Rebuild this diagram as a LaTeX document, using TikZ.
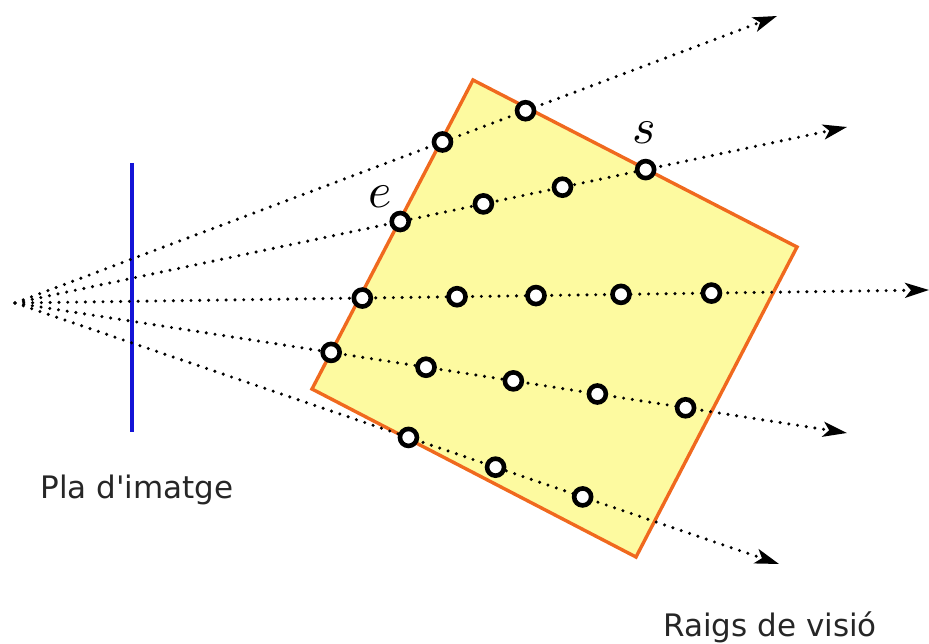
\documentclass[tikz,border=0pt]{standalone}
\usepackage{fontspec}
\setsansfont{DejaVu Sans}[Ligatures=TeXOff]
\usetikzlibrary{arrows.meta,calc}
\definecolor{sqfill}{RGB}{253,250,160}
\definecolor{sqdraw}{RGB}{240,105,30}
\definecolor{planeblue}{RGB}{20,20,215}
\tikzset{
  ray/.style={line width=3.4pt, dash pattern=on 0pt off 8.8pt, line cap=round,
    -{Stealth[length=24pt,width=15pt,inset=6pt]}},
  sample/.style={circle, draw=black, fill=white, line width=4.6pt, minimum size=17pt, inner sep=0pt},
  lbl/.style={font=\sffamily\fontsize{31}{31}\selectfont, text=black!85},
  mlbl/.style={scale=5, inner sep=0pt}
}
\begin{document}
\begin{tikzpicture}[x=1pt,y=-1pt]
\useasboundingbox (0,0) rectangle (929,644);
% object
\draw[line width=3.4pt, sqdraw, fill=sqfill, line join=miter]
  (473,80) -- (797,247) -- (636,557) -- (312,389) -- cycle;
% image plane
\draw[line width=4pt, planeblue] (132,163) -- (132,432);
% rays
\coordinate (O) at (15,303);
\coordinate (R1) at (777,16);
\coordinate (R2) at (847,127);
\coordinate (R3) at (929,290);
\coordinate (R4) at (847,433);
\coordinate (R5) at (779,564);
\foreach \r in {R1,R2,R3,R4,R5}{\draw[ray] (O) -- (\r);}
% samples
\node[sample] (a1) at ($(O)!0.561!(R1)$) {};
\node[sample] (a2) at ($(O)!0.670!(R1)$) {};
\node[sample] (b1) at ($(O)!0.463!(R2)$) {};
\node[sample] (b2) at ($(O)!0.563!(R2)$) {};
\node[sample] (b3) at ($(O)!0.658!(R2)$) {};
\node[sample] (b4) at ($(O)!0.758!(R2)$) {};
\node[sample] (c1) at ($(O)!0.380!(R3)$) {};
\node[sample] (c2) at ($(O)!0.4836!(R3)$) {};
\node[sample] (c3) at ($(O)!0.570!(R3)$) {};
\node[sample] (c4) at ($(O)!0.663!(R3)$) {};
\node[sample] (c5) at ($(O)!0.762!(R3)$) {};
\node[sample] (d1) at ($(O)!0.380!(R4)$) {};
\node[sample] (d2) at ($(O)!0.494!(R4)$) {};
\node[sample] (d3) at ($(O)!0.599!(R4)$) {};
\node[sample] (d4) at ($(O)!0.700!(R4)$) {};
\node[sample] (d5) at ($(O)!0.806!(R4)$) {};
\node[sample] (e1) at ($(O)!0.515!(R5)$) {};
\node[sample] (e2) at ($(O)!0.629!(R5)$) {};
\node[sample] (e3) at ($(O)!0.743!(R5)$) {};
% labels
\node[mlbl] (le) at (380,197) {$e$};
\node[mlbl] (ls) at (644,133) {$s$};
\node[lbl] (lp) at (137,490) {Pla d'imatge};
\node[lbl] (lr) at (770,627) {Raigs de visió};
\end{tikzpicture}
\end{document}
